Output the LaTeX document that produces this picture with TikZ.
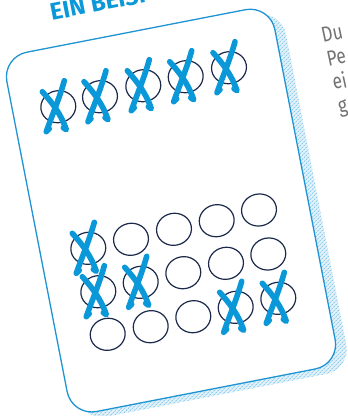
\documentclass[tikz,border=0pt]{standalone}
\usepackage{fontspec}
\usetikzlibrary{shapes.geometric,patterns.meta}
\newfontfamily\titlefont{Fira Sans}
\newfontfamily\sidefont[FakeStretch=0.8]{Fira Sans}
\definecolor{cardblue}{HTML}{1E94D2}
\definecolor{xblue}{HTML}{0A98D8}
\definecolor{navy}{HTML}{1B2A4A}
\definecolor{sidegray}{HTML}{727272}
\definecolor{shadowblue}{HTML}{E3F2FA}
\definecolor{dotblue}{HTML}{3AA6DC}
\tikzdeclarepattern{
  name=halftone,
  type=uncolored,
  bounding box={(-1.6pt,-1.6pt) and (1.6pt,1.6pt)},
  tile size={(3.2pt,3.2pt)},
  tile transformation={rotate=45},
  code={\pgfpathcircle{\pgfpointorigin}{0.8pt}\pgfusepath{fill}}
}
\tikzset{
  ring/.style={draw=navy, line width=1.2pt, ellipse, minimum width=35pt,
    minimum height=32pt, inner sep=0pt, rotate=11},
  xstroke/.style={draw=xblue, line width=5.6pt, line cap=round, line join=round},
  xmark/.pic={
    \draw[xstroke] (6,-26) .. controls (1,-8) and (-6,8) .. (-12,25) -- (-9,22);
    \draw[xstroke] (-16,-15) .. controls (-6,-4) and (3,8) .. (8,23) -- (5,21);
  },
  sidetext/.style={anchor=base west, rotate=12, inner sep=0pt, text=sidegray,
    font=\sidefont\fontsize{21.5}{24}\selectfont},
  cardshape/.style={rounded corners=25pt}
}
\begin{document}
\begin{tikzpicture}[x=1pt,y=-1pt]
\useasboundingbox (0,0) rectangle (348,416);
\clip (0,0) rectangle (348,416);

% card with halftone shadow
\begin{scope}[shift={(171.5,210.5)}, rotate=11]
  \fill[shadowblue, cardshape] (-128,-176) rectangle (146,190);
  \fill[pattern=halftone, pattern color=dotblue, cardshape] (-128,-176) rectangle (146,190);
  \draw[cardblue, fill=white, line width=1.3pt, cardshape] (-137,-183) rectangle (136,183);
\end{scope}

% title
\node[anchor=base west, rotate=11, text=xblue, inner sep=0pt,
  font=\titlefont\bfseries\fontsize{24}{28}\selectfont] (title) at (51.7,20.7) {EIN BEISPIEL};

% side text
\node[sidetext] (s1) at (323,43) {Du};
\node[sidetext] (s2) at (328.5,66.5) {Pe};
\node[sidetext] (s3) at (334,90) {ei};
\node[sidetext] (s4) at (339.5,113.5) {g};

% top row
\node[ring] (t1) at (58.3,106.7) {};
\node[ring] (t2) at (100,96.7) {};
\node[ring] (t3) at (143.3,85.7) {};
\node[ring] (t4) at (185.7,76.7) {};
\node[ring] (t5) at (229,67.7) {};

% grid
\node[ring] (a1) at (88.3,248.3) {};
\node[ring] (a2) at (131,239.3) {};
\node[ring] (a3) at (174,229.3) {};
\node[ring] (a4) at (216.7,220.7) {};
\node[ring] (a5) at (259,210) {};
\node[ring] (b1) at (98.3,291.7) {};
\node[ring] (b2) at (140.7,282.3) {};
\node[ring] (b3) at (183.3,272.7) {};
\node[ring] (b4) at (226,263.3) {};
\node[ring] (b5) at (268.3,254) {};
\node[ring] (c1) at (107.7,334.3) {};
\node[ring] (c2) at (150.7,326.7) {};
\node[ring] (c3) at (193.3,316.7) {};
\node[ring] (c4) at (235.7,307.3) {};
\node[ring] (c5) at (278.3,298.3) {};

% crosses
\foreach \n in {t1,t2,t3,t4,t5,a1,b1,b2,c4,c5}
  \pic at (\n) {xmark};
\end{tikzpicture}
\end{document}
